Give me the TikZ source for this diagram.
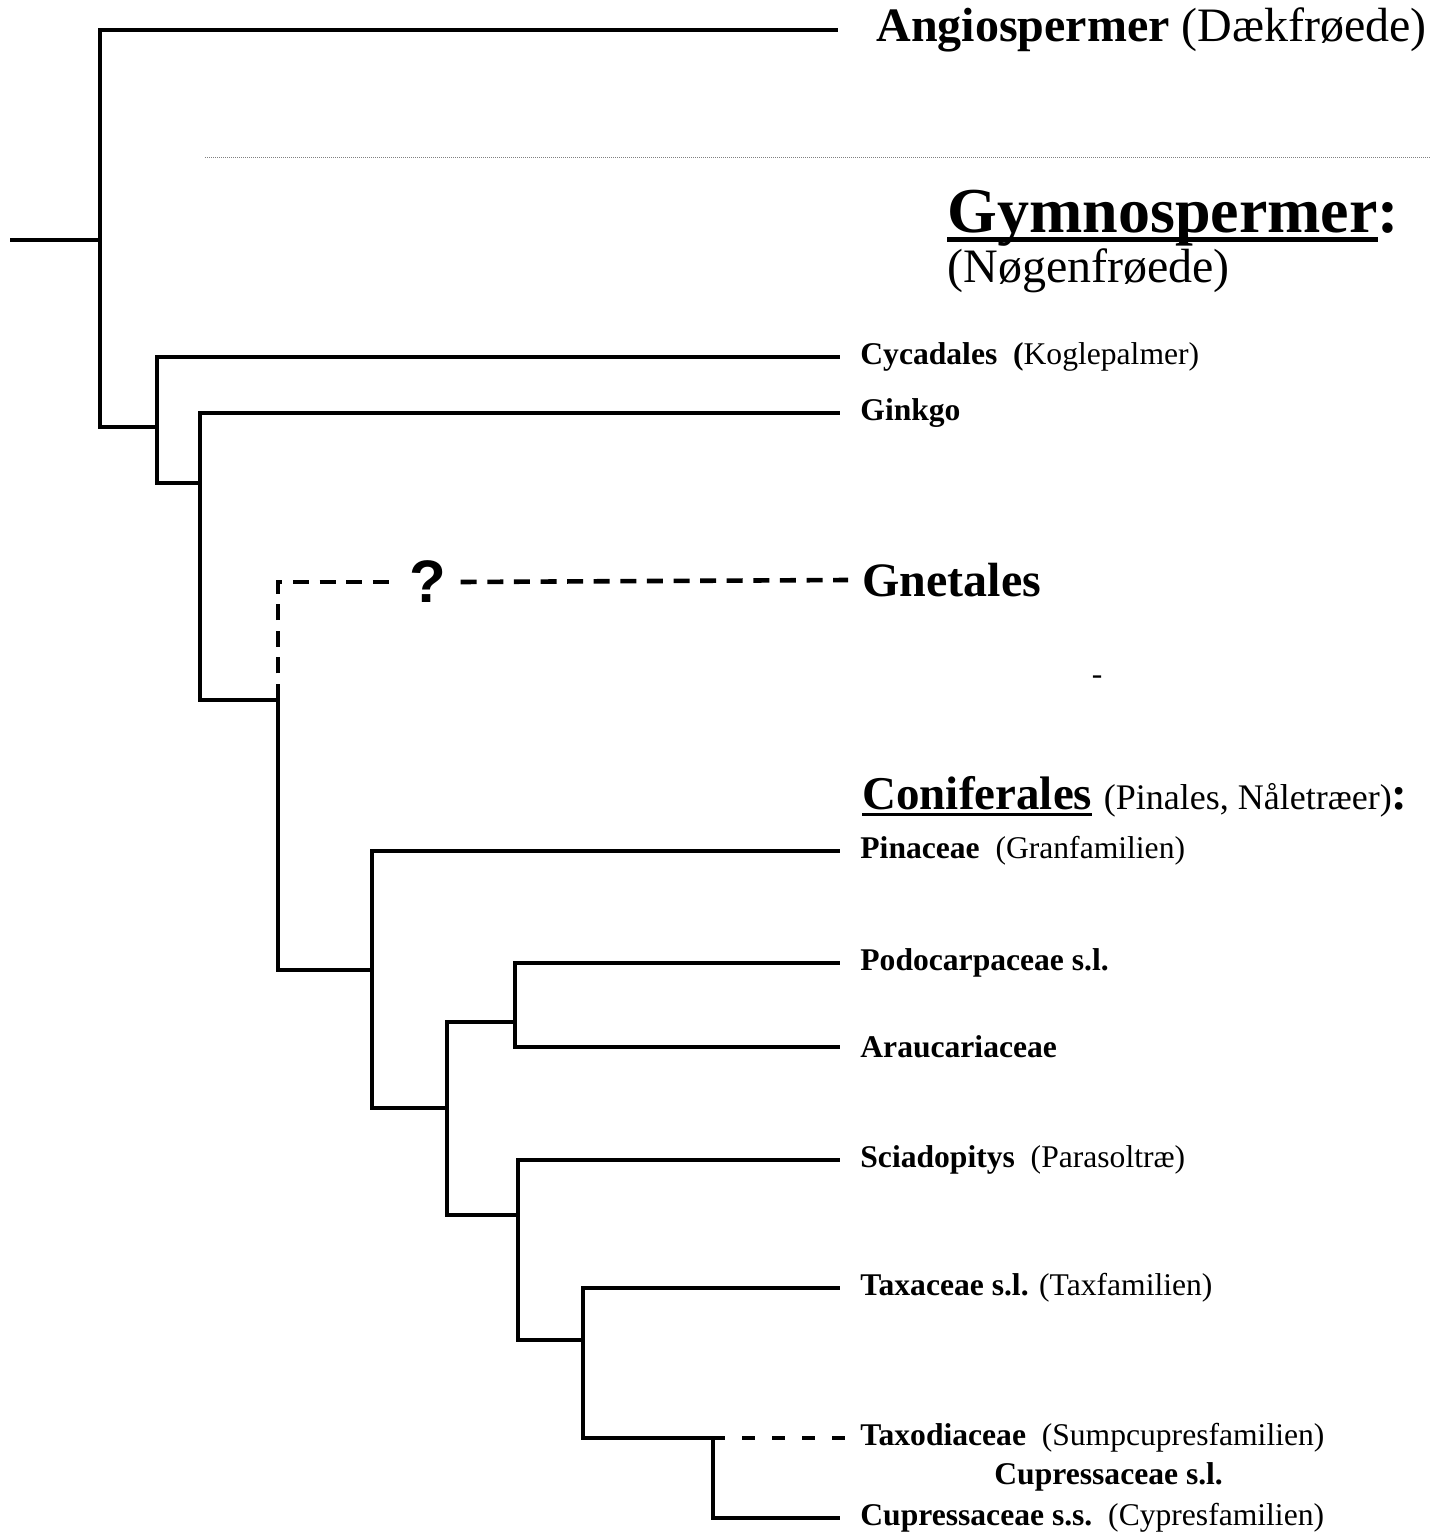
\documentclass[tikz,border=0pt]{standalone}
\usepackage{fontspec}
\setmainfont{Liberation Serif}
\newfontfamily\sansfont{Liberation Sans}
\usetikzlibrary{positioning}
\newcommand\understreg[1]{\setbox0\hbox{#1}\rlap{\rule[-0.14em]{\wd0}{0.07em}}\box0}

\begin{document}
\begin{tikzpicture}[x=0.5pt,y=-0.5pt,
  gren/.style={line width=2.3pt},
  stiplet/.style={gren,dash pattern=on 8pt off 5.3pt},
  kortstiplet/.style={gren,dash pattern=on 6.5pt off 8.5pt,dash phase=0.5pt},
  navn/.style={inner sep=0pt,font=\fontsize{15.8}{18}\selectfont},
  stor/.style={inner sep=0pt,font=\fontsize{24}{28}\selectfont}]
  \useasboundingbox (0,0) rectangle (1442,1534);

  % Forgreningspunkter
  \coordinate (rod) at (10,240);
  \coordinate (n1) at (100,240);
  \coordinate (n2) at (157,427);
  \coordinate (n3) at (200,483);
  \coordinate (n4) at (278,700);
  \coordinate (n5) at (372,970);
  \coordinate (n6) at (447,1108);
  \coordinate (n7) at (515,1022);
  \coordinate (n8) at (518,1215);
  \coordinate (n9) at (583,1340);
  \coordinate (n10) at (713,1438);

  % Grenspidser
  \coordinate (tAngio) at (838,30);
  \coordinate (tCycad) at (840,357);
  \coordinate (tGinkgo) at (840,413);
  \coordinate (tGnet) at (848,580);
  \coordinate (tPin) at (840,851);
  \coordinate (tPodo) at (840,963);
  \coordinate (tArau) at (840,1047);
  \coordinate (tSciad) at (840,1160);
  \coordinate (tTaxa) at (840,1288);
  \coordinate (tTaxod) at (848,1438);
  \coordinate (tCupr) at (840,1518);

  % Skillelinje
  \coordinate (sA) at (205,158);
  \coordinate (sB) at (1430,158);
  \draw[gray,line width=0.5pt,dash pattern=on 0.5pt off 0.5pt] (sA) -- (sB);

  % Grene
  \draw[gren] (rod) -- (n1);
  \draw[gren] (n1) |- (tAngio);
  \draw[gren] (n1) |- (n2);
  \draw[gren] (n2) |- (tCycad);
  \draw[gren] (n2) |- (n3);
  \draw[gren] (n3) |- (tGinkgo);
  \draw[gren] (n3) |- (n4);
  \draw[gren] (n4) |- (n5);
  \draw[gren] (n5) |- (tPin);
  \draw[gren] (n5) |- (n6);
  \draw[gren] (n6) |- (n7);
  \draw[gren] (n6) |- (n8);
  \draw[gren] (n7) |- (tPodo);
  \draw[gren] (n7) |- (tArau);
  \draw[gren] (n8) |- (tSciad);
  \draw[gren] (n8) |- (n9);
  \draw[gren] (n9) |- (tTaxa);
  \draw[gren] (n9) |- (n10);
  \draw[gren] (n10) |- (tCupr);
  \draw[kortstiplet] (n10) -- (tTaxod);

  % Gnetales med usikker placering
  \node[font=\sansfont\bfseries\fontsize{30}{32}\selectfont,inner xsep=7pt,inner ysep=0pt] (spm) at (428,582) {?};
  \draw[stiplet] (n4) |- (spm.west);
  \draw[stiplet] (spm.east) -- (tGnet);

  % Navne
  \node[stor,right=19pt of tAngio] (angio) {\textbf{Angiospermer} (Dækfrøede)};
  \node[anchor=base west,inner sep=0pt,font=\fontsize{32}{36}\selectfont\bfseries] (gymno) at (947,233) {\understreg{Gymnospermer}:};
  \node[anchor=base west,inner sep=0pt,font=\fontsize{24}{28}\selectfont] (noegen) at (947,283) {(Nøgenfrøede)};
  \node[navn,right=10pt of tCycad] (cycad) {\textbf{Cycadales\ \ (}Koglepalmer)};
  \node[navn,right=10pt of tGinkgo] (ginkgo) {\textbf{Ginkgo}};
  \node[inner sep=0pt,font=\fontsize{24}{28}\selectfont\bfseries,right=7pt of tGnet] (gnet) {Gnetales};
  \node[navn] (streg) at (1097,680) {-};
  \node[stor,font=\fontsize{23.5}{28}\selectfont,anchor=west] (conif) at (862,797) {\textbf{\understreg{Coniferales}} {\fontsize{18}{22}\selectfont (Pinales, Nåletræer)}\textbf{:}};
  \node[navn,right=10pt of tPin] (pin) {\textbf{Pinaceae}\ \ (Granfamilien)};
  \node[navn,right=10pt of tPodo] (podo) {\textbf{Podocarpaceae s.l.}};
  \node[navn,right=10pt of tArau] (arau) {\textbf{Araucariaceae}};
  \node[navn,right=10pt of tSciad] (sciad) {\textbf{Sciadopitys}\ \ (Parasoltræ)};
  \node[navn,right=10pt of tTaxa] (taxa) {\textbf{Taxaceae s.l.} (Taxfamilien)};
  \node[navn,right=6pt of tTaxod] (taxod) {\textbf{Taxodiaceae}\ \ (Sumpcupresfamilien)};
  \node[navn,anchor=west] (cuprsl) at (994,1477) {\textbf{Cupressaceae s.l.}};
  \node[navn,right=10pt of tCupr] (cupr) {\textbf{Cupressaceae s.s.}\ \ (Cypresfamilien)};
\end{tikzpicture}
\end{document}
